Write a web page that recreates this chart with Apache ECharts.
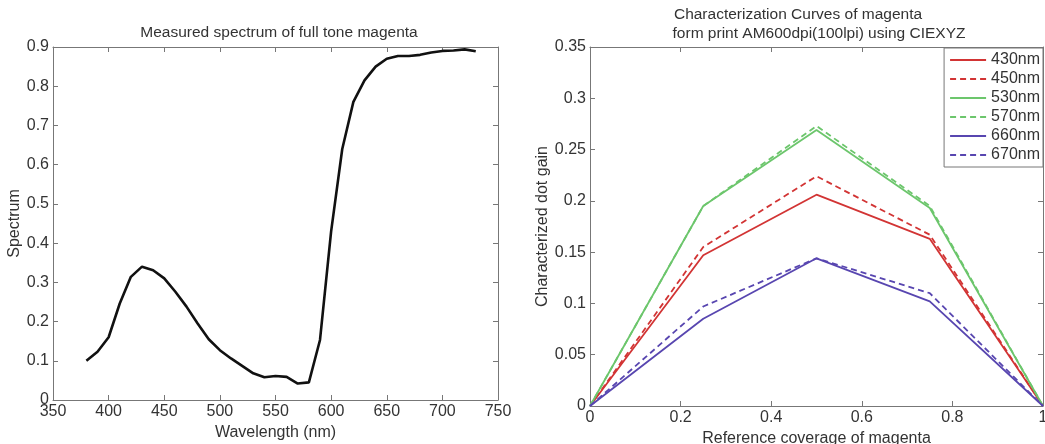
<!DOCTYPE html>
<html>
<head>
<meta charset="utf-8">
<script src="https://cdn.jsdelivr.net/npm/echarts@6/dist/echarts.min.js"></script>
<style>
  html, body { margin: 0; padding: 0; background: #fff; }
  #main { width: 1045px; height: 444px; }
</style>
</head>
<body>
<div id="main"></div>
<script>
// Left panel: measured spectrum
const wavelengths = [380, 390, 400, 410, 420, 430, 440, 450, 460, 470, 480, 490, 500, 510, 520, 530, 540, 550, 560, 570,
    580, 590, 600, 610, 620, 630, 640, 650, 660, 670, 680, 690, 700, 710, 720, 730];
const spectrum = [0.100, 0.123, 0.160, 0.246, 0.314, 0.340, 0.331, 0.310, 0.276, 0.238, 0.195, 0.155, 0.127, 0.106, 0.087, 0.068,
    0.058, 0.061, 0.059, 0.042, 0.045, 0.153, 0.430, 0.640, 0.760, 0.815, 0.850, 0.870, 0.877, 0.877, 0.880, 0.886, 0.890,
    0.891, 0.894, 0.889];

// Right panel: characterization curves
const coverage = [0, 0.25, 0.5, 0.75, 1];
const curveNames = ['430nm', '450nm', '530nm', '570nm', '660nm', '670nm'];
const gain430 = [0, 0.147, 0.206, 0.163, 0];
const gain450 = [0, 0.155, 0.224, 0.167, 0];
const gain530 = [0, 0.195, 0.269, 0.193, 0];
const gain570 = [0, 0.195, 0.273, 0.195, 0];
const gain660 = [0, 0.085, 0.144, 0.102, 0];
const gain670 = [0, 0.097, 0.144, 0.110, 0];

const FONT = 'Liberation Sans';
const RED = '#d23434', GREEN = '#6cc66c', BLUE = '#5846b0';

let pair = (xs, ys) => xs.map((x, i) => [x, ys[i]]);

let tickFmt = v => String(+v.toFixed(2));

// main axes + mirrored axes on top/right (ticks only) to get the boxed look
let boxAxes = (gridIndex, min, max, interval, showLabel, margin) => ({
    type: 'value', gridIndex: gridIndex, min: min, max: max, interval: interval,
    axisLine: { show: true, onZero: false, lineStyle: { color: '#777', width: 1 } },
    axisTick: { show: true, inside: true, length: 5, lineStyle: { color: '#777' } },
    splitLine: { show: false },
    axisLabel: { show: showLabel, color: '#333', fontFamily: FONT, fontSize: 16, formatter: tickFmt, margin: margin || 4 }
});

let axisName = { fontFamily: FONT, fontSize: 16, color: '#333' };
let titleStyle = { fontFamily: FONT, fontSize: 15.5, fontWeight: 'normal', color: '#333' };

let line = (name, data, color, dashed, xi) => ({
    name: name, type: 'line', data: data, xAxisIndex: xi, yAxisIndex: xi,
    symbol: 'none', smooth: false,
    lineStyle: { color: color, width: 1.8, type: dashed ? [6, 4] : 'solid' },
    itemStyle: { color: color }
});

let option = {
    animation: false,
    backgroundColor: '#fff',
    title: [
        { text: 'Measured spectrum of full tone magenta', left: 274, top: 20, textAlign: 'center', textStyle: titleStyle },
        { text: 'Characterization Curves of magenta', left: 793, top: 2, textAlign: 'center', textStyle: titleStyle },
        { text: 'form print AM600dpi(100lpi) using CIEXYZ', left: 814, top: 21, textAlign: 'center', textStyle: titleStyle }
    ],
    grid: [
        { left: 53, top: 47, width: 445, height: 353, outerBoundsMode: 'none' },
        { left: 590, top: 47, width: 453, height: 359, outerBoundsMode: 'none' }
    ],
    xAxis: [
        Object.assign(boxAxes(0, 350, 750, 50, true, 4), {
            name: 'Wavelength (nm)', nameLocation: 'middle', nameGap: 21, nameTextStyle: axisName }),
        Object.assign(boxAxes(1, 0, 1, 0.2, true, 4), {
            name: 'Reference coverage of magenta', nameLocation: 'middle', nameGap: 23, nameTextStyle: axisName }),
        Object.assign(boxAxes(0, 350, 750, 50, false), { position: 'top' }),
        Object.assign(boxAxes(1, 0, 1, 0.2, false), { position: 'top' })
    ],
    yAxis: [
        Object.assign(boxAxes(0, 0, 0.9, 0.1, true), {
            name: 'Spectrum', nameLocation: 'middle', nameGap: 27, nameTextStyle: axisName }),
        Object.assign(boxAxes(1, 0, 0.35, 0.05, true), {
            name: 'Characterized dot gain', nameLocation: 'middle', nameGap: 31, nameTextStyle: axisName }),
        Object.assign(boxAxes(0, 0, 0.9, 0.1, false), { position: 'right' }),
        Object.assign(boxAxes(1, 0, 0.35, 0.05, false), { position: 'right' })
    ],
    legend: {
        data: curveNames, orient: 'vertical', right: 2, top: 48,
        backgroundColor: '#fff', borderColor: '#777', borderWidth: 1,
        padding: [4, 3, 4, 5], itemGap: 3, itemWidth: 36, itemHeight: 17,
        itemStyle: { opacity: 0 },
        textStyle: { fontFamily: FONT, fontSize: 16, color: '#333', padding: [0, 0, 0, 0] }
    },
    series: [
        { name: 'spectrum', type: 'line', data: pair(wavelengths, spectrum), xAxisIndex: 0, yAxisIndex: 0,
          symbol: 'none', lineStyle: { color: '#111', width: 2.6 }, itemStyle: { color: '#111' } },
        line('430nm', pair(coverage, gain430), RED, false, 1),
        line('450nm', pair(coverage, gain450), RED, true, 1),
        line('530nm', pair(coverage, gain530), GREEN, false, 1),
        line('570nm', pair(coverage, gain570), GREEN, true, 1),
        line('660nm', pair(coverage, gain660), BLUE, false, 1),
        line('670nm', pair(coverage, gain670), BLUE, true, 1)
    ]
};

let chart = echarts.init(document.getElementById('main'));
chart.setOption(option);
</script>
</body>
</html>
